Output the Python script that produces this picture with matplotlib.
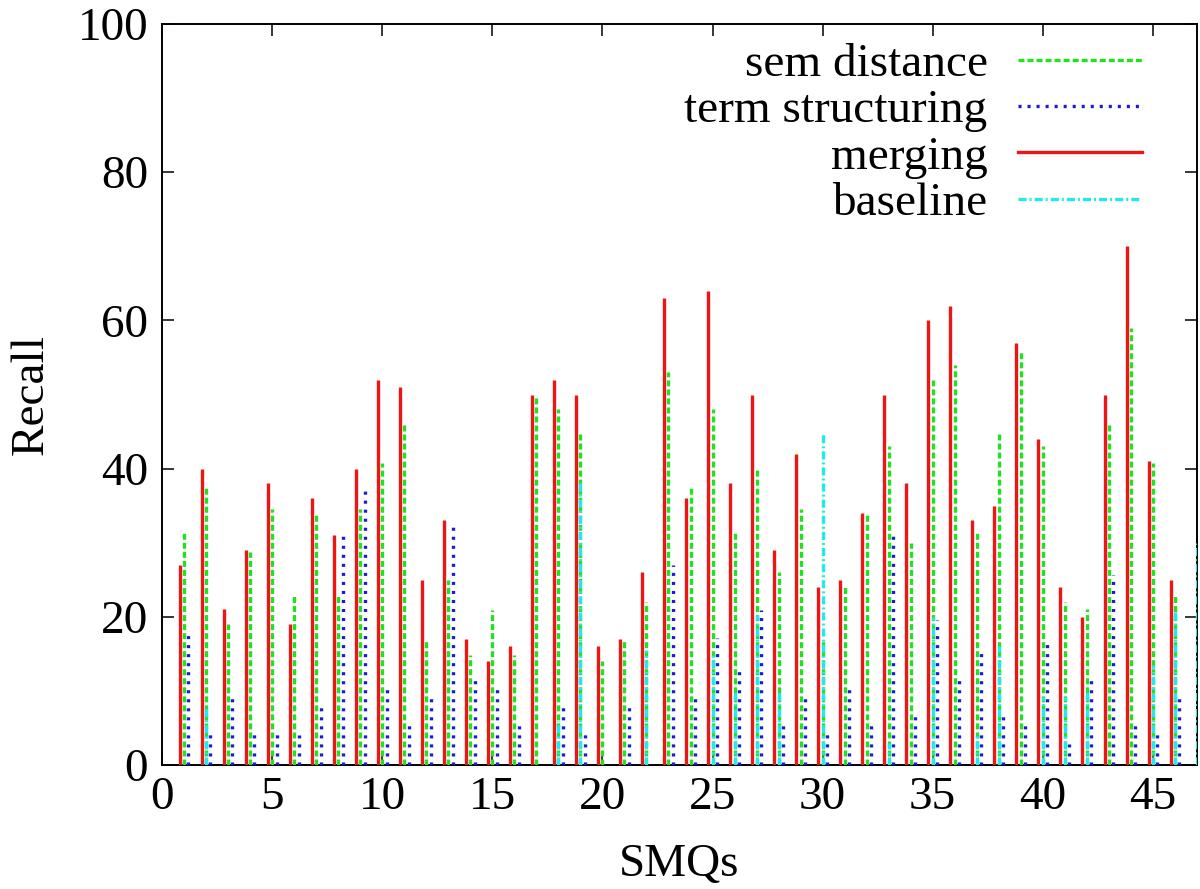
import numpy as np
import matplotlib
matplotlib.use("Agg")
import matplotlib.pyplot as plt
from matplotlib.lines import Line2D

plt.rcParams['font.family'] = ['Liberation Serif', 'DejaVu Serif']
plt.rcParams['lines.scale_dashes'] = False

# ---- data -------------------------------------------------------------
groups = list(range(1, 48))
merging = [27, 40, 21, 29, 38, 19, 36, 31, 40, 52, 51, 25, 33, 17, 14, 16, 50, 52, 50, 16,
           17, 26, 63, 36, 64, 38, 50, 29, 42, 24, 25, 34, 50, 38, 60, 62, 33, 35, 57, 44,
           24, 20, 50, 70, 41, 25, 0]
sem_distance = [31.5, 37.5, 19, 28.8, 34.5, 23, 34, 23, 34.5, 40.7, 46, 17, 25, 14.8, 20.9,
                14.8, 49.8, 48, 45, 14, 17, 22, 53, 37.5, 48, 31.5, 40, 26, 34.5, 17, 24, 34,
                43, 30, 52, 54, 31.5, 45, 56, 43, 22, 21, 46, 59, 40.7, 23, 0]
term_structuring = [18, 4.4, 9.4, 4.4, 4.4, 4, 8, 31, 37.5, 10.7, 5.6, 9.1, 32.4, 12, 10.7,
                    5.6, 0, 8.1, 4.4, 0, 8.1, 0, 27, 9.1, 17.1, 13.1, 20.9, 5.6, 9.4, 4.2,
                    10.7, 5.6, 31, 7, 19.6, 11.9, 15.7, 6.7, 5.6, 17, 2.9, 11.9, 25.7, 5.6,
                    4.3, 9.4, 0]
baseline = [0, 8, 0, 0, 0, 0, 0, 0, 0, 0, 0, 0, 0, 0, 0, 0, 0, 6, 38, 0, 0, 15.5, 0, 0,
            15.3, 10.1, 20.2, 10.1, 0, 45, 0, 0, 3, 0, 20, 0, 4.3, 16, 0, 9.2, 9.2, 10.1,
            0, 0, 13.5, 21.1, 30]
x_ticks = [0, 5, 10, 15, 20, 25, 30, 35, 40, 45]
y_ticks = [0, 20, 40, 60, 80, 100]

# ---- styles -----------------------------------------------------------
C_RED = '#ee1515'
C_GREEN = '#22e022'
C_BLUE = '#1a1ad8'
C_CYAN = '#22e8f0'
LW = 2.4
ST_GREEN = (0, (4.3, 2.2))
ST_BLUE = (0, (2.2, 4.3))
ST_RED = '-'
ST_CYAN = (0, (5.8, 2.2, 1.4, 2.2))
FS = 34

fig = plt.figure(figsize=(12, 8.89), dpi=100)
ax = fig.add_axes([162 / 1200, 124 / 889, (1197 - 162) / 1200, (765 - 24) / 889])

g = np.array(groups, dtype=float)


def impulses(xs, vals, color, ls):
    xs = np.asarray(xs, dtype=float)
    vals = np.asarray(vals, dtype=float)
    m = vals > 0
    lc = ax.vlines(xs[m], 0, vals[m], colors=color, linestyles=[ls], linewidth=LW, zorder=3)
    lc.set_capstyle('butt')
    return lc


impulses(g, sem_distance, C_GREEN, ST_GREEN)
impulses(g + 0.2, term_structuring, C_BLUE, ST_BLUE)
impulses(g - 0.2, merging, C_RED, ST_RED)
impulses(g, baseline, C_CYAN, ST_CYAN)

ax.set_xlim(0, 47)
ax.set_ylim(0, 100)
ax.set_xticks(x_ticks)
ax.set_yticks(y_ticks)
ax.tick_params(direction='in', length=8.6, width=1.1, top=True, right=True,
               labelsize=FS)
ax.tick_params(axis='y', pad=10)
ax.tick_params(axis='x', pad=8)
for s in ax.spines.values():
    s.set_linewidth(1.4)

ax.set_xlabel('SMQs', fontsize=FS, labelpad=18)
ax.set_ylabel('Recall', fontsize=FS, labelpad=18)

handles = [
    Line2D([], [], color=C_GREEN, ls=ST_GREEN, lw=LW, dash_capstyle='butt'),
    Line2D([], [], color=C_BLUE, ls=ST_BLUE, lw=LW, dash_capstyle='butt'),
    Line2D([], [], color=C_RED, ls=ST_RED, lw=LW),
    Line2D([], [], color=C_CYAN, ls=ST_CYAN, lw=LW, dash_capstyle='butt'),
]
labels = ['sem distance', 'term structuring', 'merging', 'baseline']
ax.legend(handles, labels, loc='upper right', bbox_to_anchor=(1142 / 1200, 846 / 889),
          bbox_transform=fig.transFigure, frameon=False, markerfirst=False,
          fontsize=FS, handlelength=2.63, handletextpad=0.64, labelspacing=0.07,
          borderpad=0, borderaxespad=0)

fig.savefig('out.png', dpi=100)
